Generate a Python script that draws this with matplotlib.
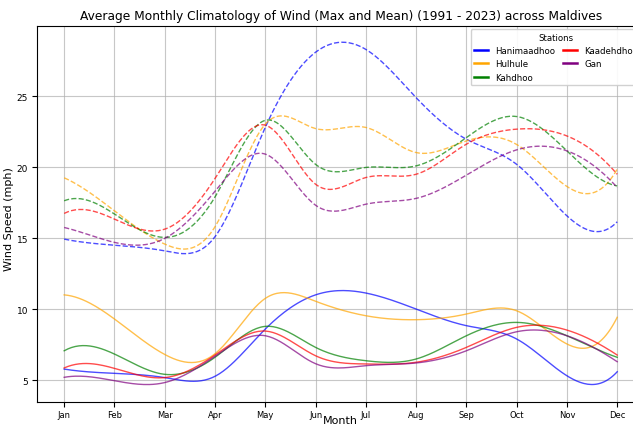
import numpy as np
import matplotlib
matplotlib.use("Agg")
import matplotlib.pyplot as plt
from matplotlib.lines import Line2D

# Monthly values (mph)
months = ['Jan', 'Feb', 'Mar', 'Apr', 'May', 'Jun', 'Jul', 'Aug', 'Sep', 'Oct', 'Nov', 'Dec']
stations = ['Hanimaadhoo', 'Hulhule', 'Kahdhoo', 'Kaadehdhoo', 'Gan']
colors = ['blue', 'orange', 'green', 'red', 'purple']

# max wind (dashed)
max_hanimaadhoo = [14.93, 14.5, 14.1, 15.1, 22.8, 28.1, 28.3, 24.9, 21.97, 20.2, 16.57, 16.15]
max_hulhule = [19.25, 16.92, 14.58, 15.8, 23.03, 22.72, 22.8, 21.03, 21.85, 21.6, 18.64, 19.86]
max_kahdhoo = [17.63, 16.7, 15.05, 17.9, 23.3, 20.2, 19.98, 20.09, 22.09, 23.57, 21.15, 18.68]
max_kaadehdhoo = [16.74, 16.34, 15.63, 19.2, 22.96, 18.8, 19.27, 19.5, 21.62, 22.68, 22.2, 19.5]
max_gan = [15.75, 14.7, 14.98, 18.3, 20.92, 17.32, 17.39, 17.8, 19.44, 21.22, 21.15, 18.57]

# mean wind (solid)
mean_hanimaadhoo = [5.77, 5.47, 5.17, 5.26, 8.59, 11.0, 11.13, 10.0, 8.83, 7.89, 5.3, 5.58]
mean_hulhule = [11.0, 9.3, 6.8, 6.85, 10.75, 10.55, 9.53, 9.25, 9.65, 9.88, 7.54, 9.42]
mean_kahdhoo = [7.06, 6.83, 5.4, 6.6, 8.78, 7.3, 6.36, 6.48, 8.12, 9.06, 8.12, 6.6]
mean_kaadehdhoo = [5.85, 5.82, 5.17, 6.76, 8.45, 6.71, 6.13, 6.25, 7.3, 8.71, 8.52, 6.76]
mean_gan = [5.19, 4.95, 4.82, 6.67, 8.12, 6.15, 6.01, 6.2, 7.06, 8.4, 8.12, 6.29]

max_series = [max_hanimaadhoo, max_hulhule, max_kahdhoo, max_kaadehdhoo, max_gan]
mean_series = [mean_hanimaadhoo, mean_hulhule, mean_kahdhoo, mean_kaadehdhoo, mean_gan]


def smooth(y, n=300):
    # not-a-knot cubic spline through the monthly points, for drawing only
    y = np.asarray(y, dtype=float)
    k = len(y)
    A = np.zeros((k, k))
    b = np.zeros(k)
    A[0, :3] = [1, -2, 1]
    A[-1, -3:] = [1, -2, 1]
    for i in range(1, k - 1):
        A[i, i - 1:i + 2] = [1, 4, 1]
        b[i] = 6 * (y[i - 1] - 2 * y[i] + y[i + 1])
    M = np.linalg.solve(A, b)
    xs = np.linspace(0, k - 1, n)
    idx = np.minimum(xs.astype(int), k - 2)
    t = xs - idx
    ys = ((M[idx] * (1 - t) ** 3 + M[idx + 1] * t ** 3) / 6
          + (y[idx] - M[idx] / 6) * (1 - t) + (y[idx + 1] - M[idx + 1] / 6) * t)
    return xs, ys


fig = plt.figure(figsize=(6.33, 4.27), dpi=100)
ax = fig.add_axes([0.0577, 0.0562, 0.961, 0.8806])

x = np.arange(len(months))
for name, col, ymax, ymean in zip(stations, colors, max_series, mean_series):
    xs, ys = smooth(ymax)
    ax.plot(xs, ys, '--', color=col, alpha=0.7, lw=1.0)
    xs, ys = smooth(ymean)
    ax.plot(xs, ys, '-', color=col, alpha=0.7, lw=1.0)

ax.set_xlim(-0.55, 11.55)
ax.set_ylim(3.45, 29.95)
ax.set_xticks(x)
ax.set_xticklabels(months, fontsize=6)
ax.tick_params(axis='x', pad=2)
ax.set_yticks([5, 10, 15, 20, 25])
ax.tick_params(axis='y', labelsize=6.5, pad=2.5)
ax.grid(True, color='#b0b0b0', lw=0.8, alpha=0.7)

ax.set_title('Average Monthly Climatology of Wind (Max and Mean) (1991 - 2023) across Maldives',
             fontsize=8.8, pad=5)
ax.set_xlabel('Month', fontsize=8)
ax.xaxis.set_label_coords(0.5, -0.034)
ax.set_ylabel('Wind Speed (mph)', fontsize=8)
ax.yaxis.set_label_coords(-0.037, 0.49)

handles = [Line2D([0], [0], color=c, lw=1.8) for c in colors]
ax.legend(handles, stations, title='Stations', loc='upper right', ncol=2,
          fontsize=6.2, title_fontsize=6.2, framealpha=0.9,
          handlelength=1.6, columnspacing=1.0, borderaxespad=0.4)

fig.savefig('out.png', dpi=100)
